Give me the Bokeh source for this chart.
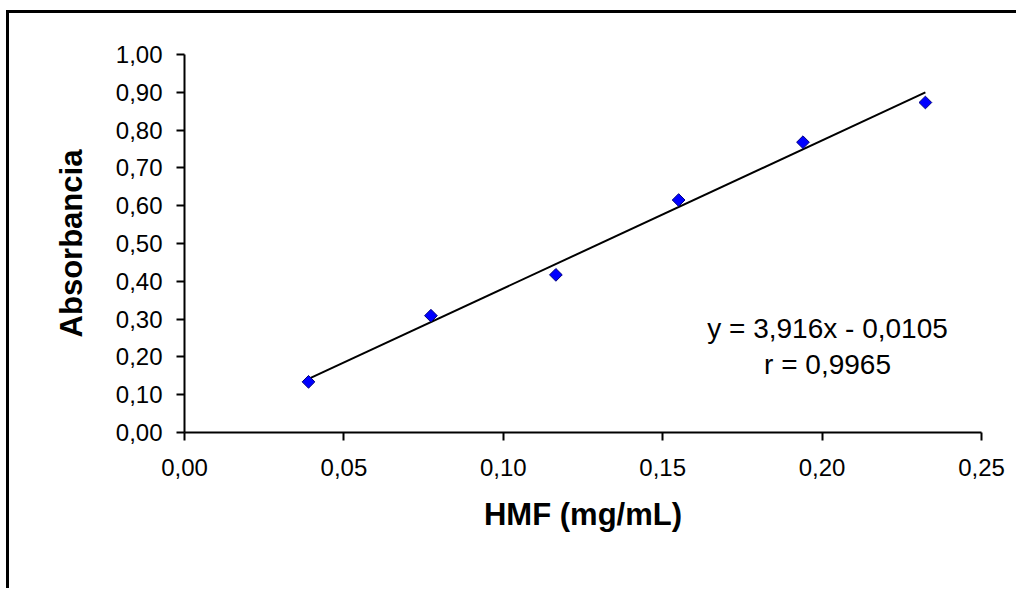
import numpy as np
from bokeh.plotting import figure
from bokeh.models import Range1d, FixedTicker, Label
from bokeh.embed import file_html
from bokeh.resources import INLINE

# ---- data ----
hmf = [0.0389, 0.0773, 0.1165, 0.1550, 0.1940, 0.2324]
absorb = [0.134, 0.309, 0.417, 0.615, 0.768, 0.873]
slope = 3.916
intercept = -0.0105
eq_text = "y = 3,916x - 0,0105"
r_text = "r = 0,9965"
x_ticks = [0.0, 0.05, 0.10, 0.15, 0.20, 0.25]
x_tick_labels = ["0,00", "0,05", "0,10", "0,15", "0,20", "0,25"]
y_ticks = [0.0, 0.1, 0.2, 0.3, 0.4, 0.5, 0.6, 0.7, 0.8, 0.9, 1.0]
y_tick_labels = ["0,00", "0,10", "0,20", "0,30", "0,40", "0,50",
                 "0,60", "0,70", "0,80", "0,90", "1,00"]
x_title = "HMF (mg/mL)"
y_title = "Absorbancia"

FONT = "Liberation Sans"

p = figure(width=1010, height=578, output_backend="svg", toolbar_location=None,
           x_range=Range1d(0, 0.25), y_range=Range1d(0, 1.0),
           min_border_left=175, min_border_right=38,
           min_border_top=41, min_border_bottom=159)
p.styles = {"margin-left": "6px", "margin-top": "10px",
            "border-left": "3px solid black", "border-top": "3px solid black"}
p.outline_line_color = None
p.grid.visible = False
p.background_fill_color = "white"
p.border_fill_color = "white"

# trendline
fx = np.array([min(hmf), max(hmf)])
fy = slope * fx + intercept
p.line(fx, fy, line_color="black", line_width=2)

# points
p.scatter(hmf, absorb, marker="square", size=9, angle=np.pi / 4,
          fill_color="#0000FF", line_color="#000080", line_width=1)

for ax, ticks, labels in ((p.xaxis[0], x_ticks, x_tick_labels),
                          (p.yaxis[0], y_ticks, y_tick_labels)):
    ax.ticker = FixedTicker(ticks=ticks)
    ax.major_label_overrides = {t: l for t, l in zip(ticks, labels)}
    ax.minor_tick_line_color = None
    ax.axis_line_color = "black"
    ax.axis_line_width = 2
    ax.major_tick_line_color = "black"
    ax.major_tick_line_width = 2
    ax.major_tick_out = 8
    ax.major_tick_in = 0
    ax.major_label_text_font = FONT
    ax.major_label_text_font_size = "24px"
    ax.major_label_text_color = "black"
    ax.axis_label_text_font = FONT
    ax.axis_label_text_font_size = "31px"
    ax.axis_label_text_font_style = "bold"
    ax.axis_label_text_color = "black"

p.xaxis.axis_label = x_title
p.yaxis.axis_label = y_title
p.xaxis.major_label_standoff = 18
p.yaxis.major_label_standoff = 14
p.xaxis.axis_label_standoff = 18
p.yaxis.axis_label_standoff = 24

for txt, yy in ((eq_text, 0.276), (r_text, 0.180)):
    p.add_layout(Label(x=0.2017, y=yy, text=txt, text_align="center",
                       text_baseline="alphabetic", text_font=FONT,
                       text_font_size="28px", text_color="black"))

open("out.html", "w").write(file_html(p, INLINE))
